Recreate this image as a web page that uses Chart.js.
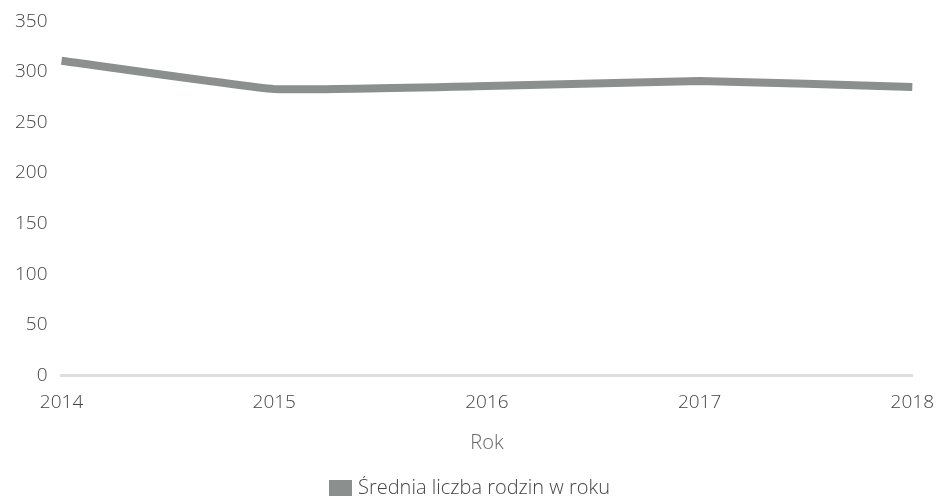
<!DOCTYPE html>
<html>
<head>
<meta charset="utf-8">
<script src="https://cdn.jsdelivr.net/npm/chart.js@4/dist/chart.umd.min.js"></script>
<style>
html,body{margin:0;padding:0;background:#fff;}
#wrap{width:938px;height:497px;position:relative;}
</style>
</head>
<body>
<div id="wrap"><canvas id="c" width="938" height="497"></canvas></div>
<script>
const categories = ["2014", "2015", "2016", "2017", "2018"];
const seriesName = "Średnia liczba rodzin w roku";
const seriesValues = [311, 283, 286, 291, 285];
const yTicks = [0, 50, 100, 150, 200, 250, 300, 350];
const xTitle = "Rok";

const lineColor = "#8b908e";
const fontFam = "'Open Sans', sans-serif";
new Chart(document.getElementById("c"), {
  type: "line",
  data: {
    labels: categories,
    datasets: [{
      label: seriesName,
      data: seriesValues,
      borderColor: lineColor,
      backgroundColor: lineColor,
      borderWidth: 8,
      borderCapStyle: "butt",
      pointRadius: 0,
      pointHoverRadius: 0,
      tension: 0.1,
      fill: false
    }]
  },
  options: {
    responsive: false,
    animation: false,
    events: [],
    layout: { padding: { top: 0, right: 0, left: 5, bottom: -11 } },
    plugins: {
      legend: {
        position: "bottom",
        labels: {
          boxWidth: 15,
          boxHeight: 8,
          color: "#444",
          padding: 2,
          font: { family: fontFam, size: 20, weight: 300, lineHeight: 1 }
        }
      },
      tooltip: { enabled: false }
    },
    scales: {
      x: {
        offset: false,
        grid: { display: true, drawOnChartArea: false, drawTicks: true, tickLength: 12, tickColor: "rgba(0,0,0,0)", color: "rgba(0,0,0,0)" },
        border: { display: true, color: "#dedede", width: 3 },
        ticks: {
          color: "#444",
          padding: 4,
          maxRotation: 0,
          font: { family: fontFam, size: 19, weight: 300 }
        },
        title: {
          display: true,
          text: xTitle,
          color: "#666",
          padding: { top: 13, bottom: 21 },
          font: { family: fontFam, size: 20, weight: 300 }
        }
      },
      y: {
        min: 0,
        max: 350,
        afterBuildTicks: (axis) => { axis.ticks = yTicks.map(v => ({ value: v })); },
        grid: { display: true, drawOnChartArea: false, drawTicks: true, tickLength: 4, tickColor: "rgba(0,0,0,0)", color: "rgba(0,0,0,0)" },
        border: { display: false },
        ticks: {
          color: "#444",
          padding: 10,
          font: { family: fontFam, size: 19, weight: 300 }
        }
      }
    }
  }
});
</script>
</body>
</html>
